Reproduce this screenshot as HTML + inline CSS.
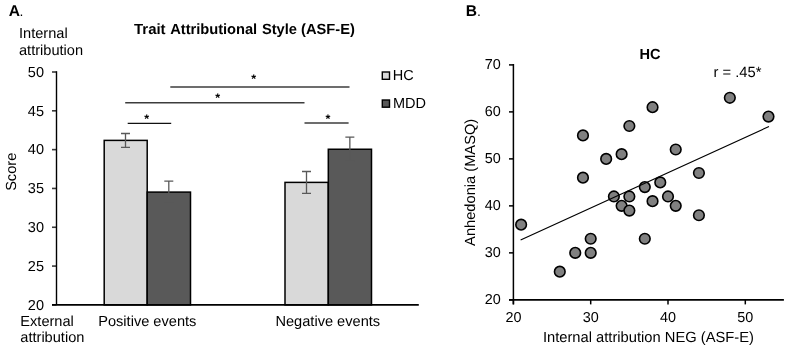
<!DOCTYPE html>
<html><head><meta charset="utf-8"><style>
html,body{margin:0;padding:0;background:#fff;}
svg{display:block;font-family:"Liberation Sans", sans-serif;will-change:transform;}
text{fill:#000;text-rendering:geometricPrecision;}
</style></head><body>
<svg width="787" height="349" viewBox="0 0 787 349">
<text x="8.7" y="15.8" font-size="15.6" font-weight="bold">A</text><text x="19.6" y="15.8" font-size="14">.</text>
<text x="19.0" y="38.2" font-size="14.6" text-anchor="start" font-weight="normal" >Internal</text>
<text x="19.0" y="55.2" font-size="14.6" text-anchor="start" font-weight="normal" >attribution</text>
<text x="134.0" y="34.4" font-size="14.7" text-anchor="start" font-weight="bold" textLength="31.6" lengthAdjust="spacingAndGlyphs">Trait</text>
<text x="170.2" y="34.4" font-size="14.7" text-anchor="start" font-weight="bold" textLength="87.0" lengthAdjust="spacing">Attributional</text>
<text x="261.9" y="34.4" font-size="14.7" text-anchor="start" font-weight="bold" >Style (ASF-E)</text>
<line x1="52" y1="72.00" x2="56.5" y2="72.00" stroke="#3a3a3a" stroke-width="1.6"/>
<text x="44.0" y="76.7" font-size="14.5" text-anchor="end" font-weight="normal" >50</text>
<line x1="52" y1="110.82" x2="56.5" y2="110.82" stroke="#3a3a3a" stroke-width="1.6"/>
<text x="44.0" y="115.52" font-size="14.5" text-anchor="end" font-weight="normal" >45</text>
<line x1="52" y1="149.63" x2="56.5" y2="149.63" stroke="#3a3a3a" stroke-width="1.6"/>
<text x="44.0" y="154.33" font-size="14.5" text-anchor="end" font-weight="normal" >40</text>
<line x1="52" y1="188.45" x2="56.5" y2="188.45" stroke="#3a3a3a" stroke-width="1.6"/>
<text x="44.0" y="193.15" font-size="14.5" text-anchor="end" font-weight="normal" >35</text>
<line x1="52" y1="227.27" x2="56.5" y2="227.27" stroke="#3a3a3a" stroke-width="1.6"/>
<text x="44.0" y="231.97" font-size="14.5" text-anchor="end" font-weight="normal" >30</text>
<line x1="52" y1="266.08" x2="56.5" y2="266.08" stroke="#3a3a3a" stroke-width="1.6"/>
<text x="44.0" y="270.78" font-size="14.5" text-anchor="end" font-weight="normal" >25</text>
<line x1="52" y1="304.90" x2="56.5" y2="304.90" stroke="#3a3a3a" stroke-width="1.6"/>
<text x="44.0" y="309.6" font-size="14.5" text-anchor="end" font-weight="normal" >20</text>
<text transform="translate(15.95,171.8) rotate(-90)" font-size="14.6" text-anchor="middle">Score</text>
<rect x="104.2" y="140.39" width="42.999999999999986" height="164.51" fill="#d9d9d9" stroke="#000" stroke-width="1.5"/>
<rect x="147.2" y="192.10" width="43.30000000000001" height="112.80" fill="#595959" stroke="#000" stroke-width="1.5"/>
<rect x="285.0" y="182.39" width="43.30000000000001" height="122.51" fill="#d9d9d9" stroke="#000" stroke-width="1.5"/>
<rect x="328.3" y="149.25" width="43.19999999999999" height="155.65" fill="#595959" stroke="#000" stroke-width="1.5"/>
<path d="M121.0,133.49H130.0M125.5,133.49V147.30M121.0,147.30H130.0" stroke="#595959" stroke-width="1.3" fill="none"/>
<path d="M164.3,181.07H173.3M168.8,181.07V203.12M164.3,203.12H173.3" stroke="#595959" stroke-width="1.3" fill="none"/>
<path d="M302.0,171.49H311.0M306.5,171.49V193.30M302.0,193.30H311.0" stroke="#595959" stroke-width="1.3" fill="none"/>
<path d="M345.35,137.06H354.35M349.85,137.06V161.43M345.35,161.43H354.35" stroke="#595959" stroke-width="1.3" fill="none"/>
<line x1="56.5" y1="71.2" x2="56.5" y2="304.9" stroke="#000" stroke-width="1.4"/>
<line x1="52" y1="304.9" x2="418.8" y2="304.9" stroke="#000" stroke-width="1.8"/>
<line x1="170.3" y1="86.9" x2="349.5" y2="86.9" stroke="#3c3c3c" stroke-width="1.5"/>
<text x="253.8" y="83.3" font-size="12.5" text-anchor="middle" font-weight="bold" >*</text>
<line x1="125.2" y1="102.8" x2="304.5" y2="102.8" stroke="#3c3c3c" stroke-width="1.5"/>
<text x="217.6" y="101.5" font-size="12.5" text-anchor="middle" font-weight="bold" >*</text>
<line x1="127.7" y1="123.3" x2="171.2" y2="123.3" stroke="#111" stroke-width="1.25"/>
<text x="146.8" y="123.3" font-size="12.5" text-anchor="middle" font-weight="bold" >*</text>
<line x1="304.5" y1="123.0" x2="348.6" y2="123.0" stroke="#3c3c3c" stroke-width="1.5"/>
<text x="327.9" y="122.6" font-size="12.5" text-anchor="middle" font-weight="bold" >*</text>
<rect x="382.3" y="72.0" width="7.2" height="7.3" fill="#d9d9d9" stroke="#000" stroke-width="1.4"/>
<rect x="382.3" y="100.0" width="7.2" height="7.2" fill="#595959" stroke="#000" stroke-width="1.4"/>
<text x="392.8" y="80.0" font-size="14.5" text-anchor="start" font-weight="normal" >HC</text>
<text x="393.0" y="108.0" font-size="14.5" text-anchor="start" font-weight="normal" >MDD</text>
<text x="20.3" y="326.2" font-size="14.6" text-anchor="start" font-weight="normal" >External</text>
<text x="20.3" y="342.3" font-size="14.6" text-anchor="start" font-weight="normal" >attribution</text>
<text x="147.3" y="326.1" font-size="14.6" text-anchor="middle" font-weight="normal" >Positive events</text>
<text x="327.8" y="326.1" font-size="14.6" text-anchor="middle" font-weight="normal" >Negative events</text>
<text x="465.8" y="15.8" font-size="15.6" font-weight="bold">B</text><text x="477.0" y="15.8" font-size="14">.</text>
<text x="650.1" y="58.9" font-size="14.6" text-anchor="middle" font-weight="bold" >HC</text>
<text x="713.5" y="77.1" font-size="14.75" text-anchor="start" font-weight="normal" >r = .45*</text>
<line x1="509" y1="299.85" x2="513.4" y2="299.85" stroke="#000" stroke-width="1.5"/>
<text x="500.8" y="304.25" font-size="14.4" text-anchor="end" font-weight="normal" >20</text>
<line x1="509" y1="252.86" x2="513.4" y2="252.86" stroke="#000" stroke-width="1.5"/>
<text x="500.8" y="257.26" font-size="14.4" text-anchor="end" font-weight="normal" >30</text>
<line x1="509" y1="205.87" x2="513.4" y2="205.87" stroke="#000" stroke-width="1.5"/>
<text x="500.8" y="210.27" font-size="14.4" text-anchor="end" font-weight="normal" >40</text>
<line x1="509" y1="158.88" x2="513.4" y2="158.88" stroke="#000" stroke-width="1.5"/>
<text x="500.8" y="163.28" font-size="14.4" text-anchor="end" font-weight="normal" >50</text>
<line x1="509" y1="111.89" x2="513.4" y2="111.89" stroke="#000" stroke-width="1.5"/>
<text x="500.8" y="116.29" font-size="14.4" text-anchor="end" font-weight="normal" >60</text>
<line x1="509" y1="64.90" x2="513.4" y2="64.90" stroke="#000" stroke-width="1.5"/>
<text x="500.8" y="69.3" font-size="14.4" text-anchor="end" font-weight="normal" >70</text>
<line x1="513.40" y1="299.85" x2="513.40" y2="304.4" stroke="#000" stroke-width="1.5"/>
<text x="513.4" y="322.0" font-size="14.4" text-anchor="middle" font-weight="normal" >20</text>
<line x1="590.70" y1="299.85" x2="590.70" y2="304.4" stroke="#000" stroke-width="1.5"/>
<text x="590.7" y="322.0" font-size="14.4" text-anchor="middle" font-weight="normal" >30</text>
<line x1="668.00" y1="299.85" x2="668.00" y2="304.4" stroke="#000" stroke-width="1.5"/>
<text x="668.0" y="322.0" font-size="14.4" text-anchor="middle" font-weight="normal" >40</text>
<line x1="745.30" y1="299.85" x2="745.30" y2="304.4" stroke="#000" stroke-width="1.5"/>
<text x="745.3" y="322.0" font-size="14.4" text-anchor="middle" font-weight="normal" >50</text>
<line x1="513.4" y1="64.0" x2="513.4" y2="304.4" stroke="#000" stroke-width="1.5"/>
<line x1="509" y1="299.85" x2="783.9" y2="299.85" stroke="#000" stroke-width="1.6"/>
<text transform="translate(475.2,182.35) rotate(-90)" font-size="14.67" text-anchor="middle">Anhedonia (MASQ)</text>
<text x="648.4" y="342.2" font-size="14.72" text-anchor="middle" font-weight="normal" >Internal attribution NEG (ASF-E)</text>
<circle cx="521.13" cy="224.67" r="5.3" fill="#808080" stroke="#000" stroke-width="1.6"/>
<circle cx="559.78" cy="271.66" r="5.3" fill="#808080" stroke="#000" stroke-width="1.6"/>
<circle cx="575.24" cy="252.86" r="5.3" fill="#808080" stroke="#000" stroke-width="1.6"/>
<circle cx="582.97" cy="177.68" r="5.3" fill="#808080" stroke="#000" stroke-width="1.6"/>
<circle cx="582.97" cy="135.39" r="5.3" fill="#808080" stroke="#000" stroke-width="1.6"/>
<circle cx="590.70" cy="238.76" r="5.3" fill="#808080" stroke="#000" stroke-width="1.6"/>
<circle cx="590.70" cy="252.86" r="5.3" fill="#808080" stroke="#000" stroke-width="1.6"/>
<circle cx="606.16" cy="158.88" r="5.3" fill="#808080" stroke="#000" stroke-width="1.6"/>
<circle cx="613.89" cy="196.47" r="5.3" fill="#808080" stroke="#000" stroke-width="1.6"/>
<circle cx="621.62" cy="154.18" r="5.3" fill="#808080" stroke="#000" stroke-width="1.6"/>
<circle cx="621.62" cy="205.87" r="5.3" fill="#808080" stroke="#000" stroke-width="1.6"/>
<circle cx="629.35" cy="196.47" r="5.3" fill="#808080" stroke="#000" stroke-width="1.6"/>
<circle cx="629.35" cy="210.57" r="5.3" fill="#808080" stroke="#000" stroke-width="1.6"/>
<circle cx="629.35" cy="125.99" r="5.3" fill="#808080" stroke="#000" stroke-width="1.6"/>
<circle cx="644.81" cy="187.07" r="5.3" fill="#808080" stroke="#000" stroke-width="1.6"/>
<circle cx="644.81" cy="238.76" r="5.3" fill="#808080" stroke="#000" stroke-width="1.6"/>
<circle cx="652.54" cy="107.19" r="5.3" fill="#808080" stroke="#000" stroke-width="1.6"/>
<circle cx="652.54" cy="201.17" r="5.3" fill="#808080" stroke="#000" stroke-width="1.6"/>
<circle cx="660.27" cy="182.38" r="5.3" fill="#808080" stroke="#000" stroke-width="1.6"/>
<circle cx="668.00" cy="196.47" r="5.3" fill="#808080" stroke="#000" stroke-width="1.6"/>
<circle cx="675.73" cy="149.48" r="5.3" fill="#808080" stroke="#000" stroke-width="1.6"/>
<circle cx="675.73" cy="205.87" r="5.3" fill="#808080" stroke="#000" stroke-width="1.6"/>
<circle cx="698.92" cy="172.98" r="5.3" fill="#808080" stroke="#000" stroke-width="1.6"/>
<circle cx="698.92" cy="215.27" r="5.3" fill="#808080" stroke="#000" stroke-width="1.6"/>
<circle cx="729.84" cy="97.79" r="5.3" fill="#808080" stroke="#000" stroke-width="1.6"/>
<circle cx="768.49" cy="116.59" r="5.3" fill="#808080" stroke="#000" stroke-width="1.6"/>
<line x1="521.13" y1="239.71" x2="768.49" y2="126.74" stroke="#000" stroke-width="1.1" stroke-linecap="square"/>
</svg>
</body></html>
